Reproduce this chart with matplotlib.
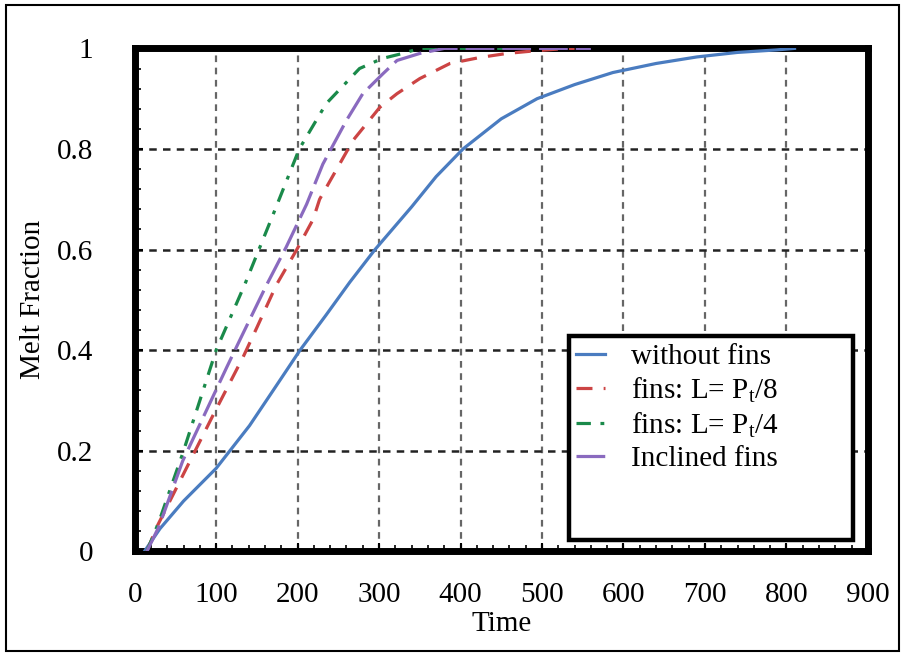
import matplotlib
matplotlib.use("Agg")
import matplotlib.pyplot as plt
from matplotlib.patches import Rectangle

plt.rcParams['font.family'] = ['Liberation Serif', 'DejaVu Serif']
plt.rcParams['mathtext.fontset'] = 'custom'
plt.rcParams['mathtext.rm'] = 'Liberation Serif'

# data
t_nofin = [12, 31, 60, 100, 141, 170, 203, 235, 264, 295, 340, 370, 403, 450, 494, 540, 587, 640, 690, 740, 788, 810]
mf_nofin = [0.0, 0.045, 0.10, 0.165, 0.25, 0.32, 0.40, 0.47, 0.535, 0.60, 0.685, 0.745, 0.80, 0.86, 0.90, 0.928, 0.952, 0.97, 0.983, 0.992, 0.997, 1.0]

t_l8 = [15, 27, 64, 96, 133, 150, 174, 199, 219, 227, 268, 301, 322, 350, 387, 424, 457, 490, 530, 540]
mf_l8 = [0.0, 0.048, 0.167, 0.27, 0.386, 0.445, 0.53, 0.60, 0.66, 0.70, 0.817, 0.883, 0.91, 0.94, 0.97, 0.982, 0.99, 0.995, 1.0, 1.0]

t_l4 = [15, 30, 59, 100, 135, 170, 202, 235, 276, 304, 329, 350, 480]
mf_l4 = [0.0, 0.06, 0.195, 0.40, 0.53, 0.67, 0.80, 0.89, 0.96, 0.98, 0.99, 1.0, 1.0]

t_incl = [15, 30, 59, 113, 129, 162, 186, 211, 231, 260, 280, 305, 322, 350, 380, 560]
mf_incl = [0.0, 0.05, 0.18, 0.366, 0.42, 0.53, 0.605, 0.69, 0.77, 0.857, 0.91, 0.95, 0.976, 0.99, 1.0, 1.0]

fig = plt.figure(figsize=(9.04, 6.54), dpi=100)
fig.patches.append(Rectangle((0.007, 0.004), 0.988, 0.988, transform=fig.transFigure,
                             fill=False, edgecolor='black', linewidth=1.5))
ax = fig.add_axes([0.149, 0.157, 0.811, 0.769])

ax.plot(t_nofin, mf_nofin, color='#4a7cc0', lw=2.3, label='without fins', zorder=3)
ax.plot(t_l8, mf_l8, color='#cc4444', lw=2.3, dashes=(5, 3.5), label=r'fins: L= P$_\mathrm{t}$/8', zorder=3)
ax.plot(t_l4, mf_l4, color='#1a8a4a', lw=2.3, dashes=(4.5, 3, 1.2, 3), label=r'fins: L= P$_\mathrm{t}$/4', zorder=3)
ax.plot(t_incl, mf_incl, color='#8a6abf', lw=2.3, dashes=(9, 2.5), label='Inclined fins', zorder=3)

ax.set_xlim(0, 900)
ax.set_ylim(0, 1)
ax.set_xticks(range(0, 901, 100))
ax.set_yticks([0, 0.2, 0.4, 0.6, 0.8, 1])
ax.set_yticklabels(['0', '0.2', '0.4', '0.6', '0.8', '1'])
ax.set_xticks(range(0, 901, 20), minor=True)
ax.set_yticks([i * 0.04 for i in range(26)], minor=True)
ax.tick_params(which='both', direction='in', labelsize=21, top=False, right=False)
ax.tick_params(which='major', length=6, width=1.5, pad=22)
ax.tick_params(which='minor', length=4, width=1.2)
ax.tick_params(axis='y', which='major', pad=30)

ax.xaxis.grid(True, color='#666666', linestyle=(0, (3, 2.5)), linewidth=1.6)
ax.yaxis.grid(True, color='#222222', linestyle=(0, (3, 2.5)), linewidth=1.8)
ax.set_axisbelow(True)

for s in ax.spines.values():
    s.set_linewidth(5)

ax.set_xlabel('Time', fontsize=21, labelpad=2)
ax.set_ylabel('Melt Fraction', fontsize=21, labelpad=8)

ax.add_patch(Rectangle((0.593, 0.022), 0.387, 0.407, transform=ax.transAxes,
                       facecolor='white', edgecolor='black', linewidth=3.2, zorder=4))
leg = ax.legend(loc='upper left', bbox_to_anchor=(0.586, 0.436), frameon=False,
                fontsize=21, handlelength=1.0, handletextpad=0.9, labelspacing=0.18,
                borderaxespad=0.1, borderpad=0.3)
leg.set_zorder(5)

fig.savefig('out.png', dpi=100)
